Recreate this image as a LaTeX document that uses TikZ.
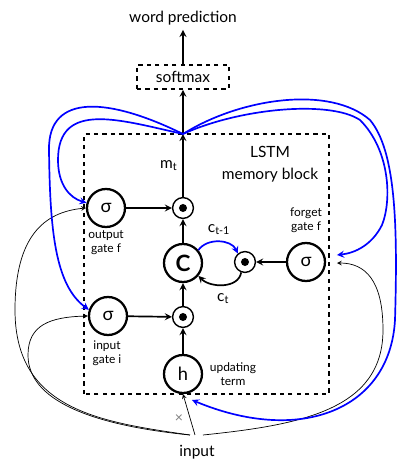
\documentclass[tikz,border=0pt]{standalone}
\usepackage{fontspec}
\setmainfont{Lato}
\usetikzlibrary{positioning}
\begin{document}
\begin{tikzpicture}[
x=0.025cm,y=0.025cm,
font=\fontsize{11}{13}\selectfont,
gate/.style={circle,draw,line width=1.6pt,minimum size=0.95cm,inner sep=0pt,font=\fontsize{13}{13}\selectfont},
mult/.style={circle,draw,line width=1pt,minimum size=0.52cm,inner sep=0pt,
  path picture={\fill (path picture bounding box.center) circle (0.1cm);}},
lbl/.style={align=center,font=\fontsize{8.5}{10}\selectfont},
flow/.style={-stealth,line width=1.2pt},
feed/.style={-stealth,line width=0.5pt},
rec/.style={-stealth,blue,line width=1.2pt},
box/.style={draw,dashed,line width=1.1pt},
]
\useasboundingbox (0,0) rectangle (412,470);
% memory block
\draw[box] (84,76) rectangle (329,336);
\coordinate (top) at (183,336);
\node (lstm) at (270,318) {LSTM};
\node (memblk) at (270,295) {memory block};
% gates and units
\node[gate] (og) at (106,262) {σ};
\node[mult] (om) at (183,262) {};
\node[gate,font=\bfseries\fontsize{16}{16}\selectfont] (cell) at (183,207) {C};
\node[mult] (fm) at (245,208) {};
\node[gate] (fg) at (306,208) {σ};
\node[mult] (im) at (183,153) {};
\node[gate] (ig) at (108,154) {σ};
\node[gate] (upd) at (183,96) {h};
\node[lbl] (oglbl) at (106,227) {output\\gate f};
\node[lbl] (iglbl) at (107,117) {input\\gate i};
\node[lbl] (fglbl) at (306,250) {forget\\gate f};
\node[lbl] (updlbl) at (233,96) {updating\\term};
% output side
\node[box,minimum width=2.3cm,minimum height=0.6cm] (soft) at (183,393) {softmax};
\node (pred) at (183,452) {word prediction};
% input side
\node (input) at (197,18) {input};
\node[gray,font=\fontsize{10}{10}\selectfont] (times) at (179,51) {×};
\coordinate (inl) at (190,35);
\coordinate (inm) at (195,35);
\coordinate (inr) at (203,35);
\coordinate (fgfeed) at (337,207);
\coordinate (fgin) at (337,215);
\coordinate (hin) at (192,70);

\draw[flow] (og) -- (om);
\draw[flow] (ig) -- (im);
\draw[flow] (fg) -- (fm);
\draw[flow] (upd) -- (im);
\draw[flow] (im) -- (cell);
\draw[flow] (cell) -- (om);
\draw[flow] (om) -- node[left] {m\textsubscript{t}} (top);
\draw[flow] (top) -- (soft);
\draw[flow] (soft) -- (pred);
\draw[rec] (cell.40) to[out=55,in=115] node[above=1pt,black] {c\textsubscript{t-1}} (fm.130);
\draw[flow] (fm.250) to[out=-100,in=-45] node[below=2pt] {c\textsubscript{t}} (cell.-40);

% input connections
\draw[feed] (inm) -- (upd.south);
\draw[feed] (inl) .. controls (100,48) and (15,60) .. (15,160)
  .. controls (15,235) and (45,258) .. (og.west);
\draw[feed] (inl) .. controls (90,45) and (28,70) .. (28,115)
  .. controls (28,145) and (50,153) .. (ig.west);
\draw[feed] (inr) .. controls (300,45) and (383,60) .. (383,140)
  .. controls (383,190) and (365,207) .. (fgfeed);

% recurrent connections
\draw[rec] (top) .. controls (120,350) and (58,370) .. (58,310)
  .. controls (58,285) and (70,272) .. (og.165);
\draw[rec] (top) .. controls (110,372) and (48,378) .. (49,320)
  .. controls (50,240) and (55,185) .. (ig.162);
\draw[rec] (top) .. controls (240,362) and (330,370) .. (360,350)
  .. controls (390,320) and (392,270) .. (382,245)
  .. controls (372,225) and (355,217) .. (fgin);
\draw[rec] (top) .. controls (240,372) and (330,385) .. (370,350)
  .. controls (395,320) and (398,250) .. (395,150)
  .. controls (390,60) and (300,25) .. (hin);
\end{tikzpicture}
\end{document}
